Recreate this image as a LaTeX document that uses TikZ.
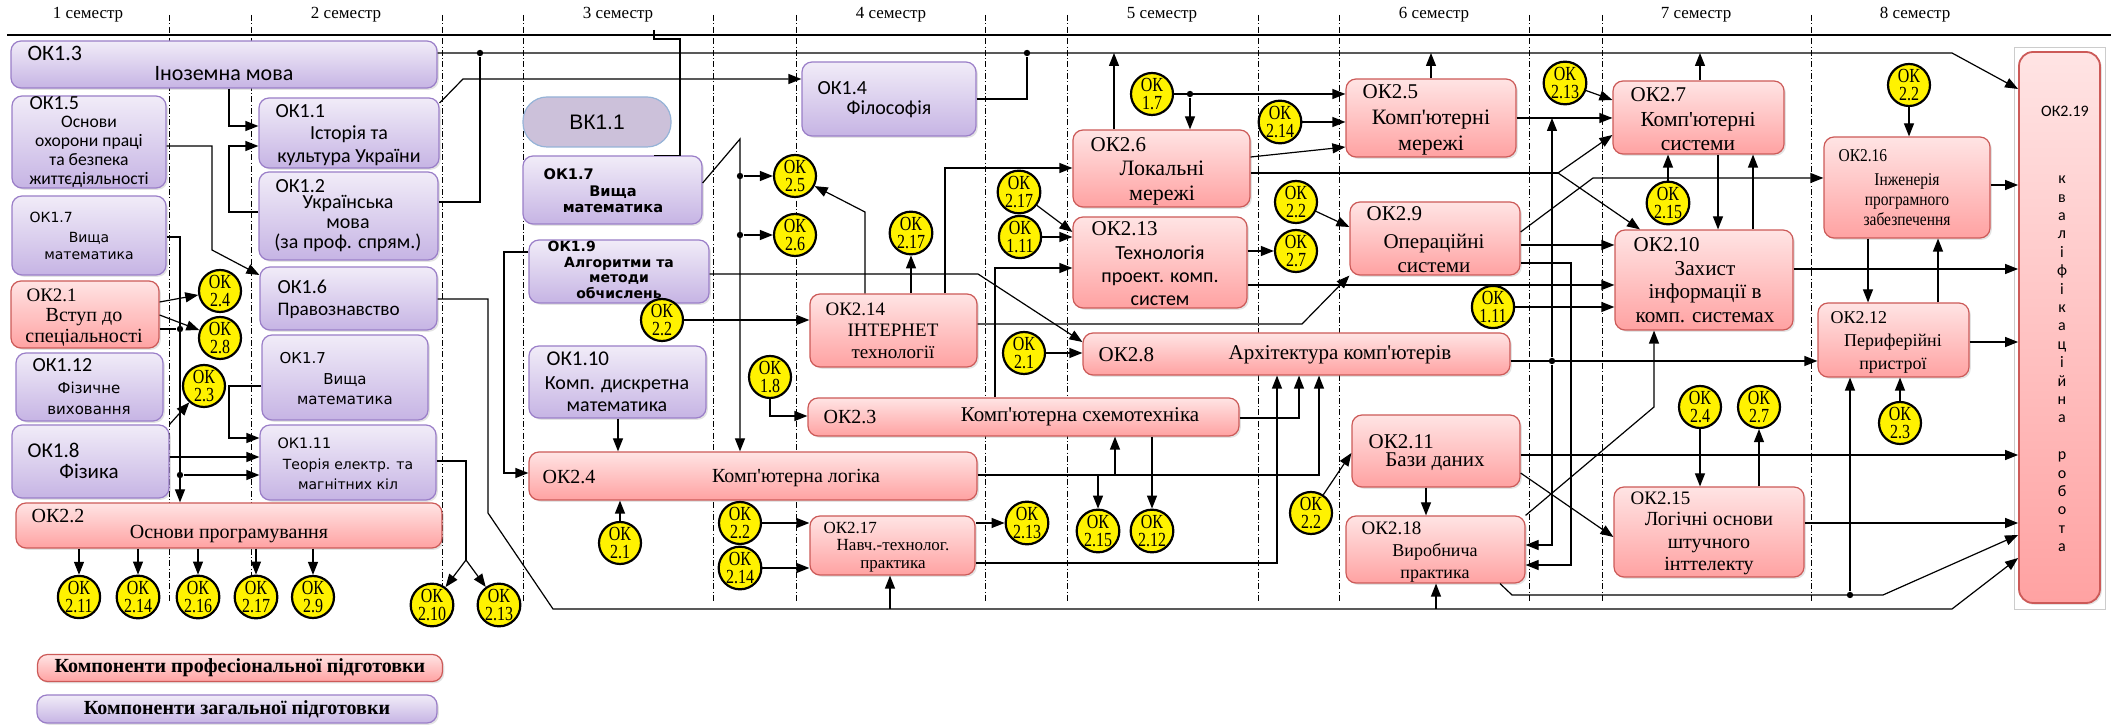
\documentclass[tikz,border=0pt]{standalone}
\usepackage{fontspec}
\setmainfont{Liberation Serif}
\newfontfamily\calfont{Carlito}
\newfontfamily\verfont{DejaVu Sans}
\newfontfamily\arifont{Liberation Sans}
\newfontfamily\circfont[FakeStretch=0.8]{Liberation Serif}
\newfontfamily\condfont[FakeStretch=0.86]{Liberation Serif}
\usetikzlibrary{arrows.meta,fit,shadows}
\newcommand\setfs[2]{\fontsize{#1}{#2}\selectfont}
\newcommand\apo{\textquotesingle}

\definecolor{genTop}{HTML}{F1ECF8}
\definecolor{genBot}{HTML}{C6B4E4}
\definecolor{genLine}{HTML}{9A7EC8}
\definecolor{profTop}{HTML}{FFE4E4}
\definecolor{profBot}{HTML}{FFA2A2}
\definecolor{profLine}{HTML}{CC5A58}
\definecolor{vkFill}{HTML}{CCC1DA}
\definecolor{vkLine}{HTML}{95B3D7}

\tikzset{
  boxshadow/.style={drop shadow={opacity=0.22,shadow xshift=0.9pt,shadow yshift=-0.9pt}},
  genbox/.style={draw=genLine,rounded corners=5pt,top color=genTop,bottom color=genBot,inner sep=0pt,boxshadow},
  profbox/.style={draw=profLine,rounded corners=5pt,top color=profTop,bottom color=profBot,inner sep=0pt,boxshadow},
  okcirc/.style={circle,draw=black,line width=1.1pt,fill=yellow,inner sep=0pt,minimum size=21pt,align=center,font=\circfont\setfs{10}{9.4}},
  jdot/.style={circle,fill=black,inner sep=0pt,minimum size=3.2pt},
  gtitle/.style={anchor=west,inner sep=0pt,font=\calfont\setfs{10}{11}},
  gbody/.style={align=center,inner sep=0pt,font=\calfont\setfs{10}{11}},
  ptitle/.style={anchor=west,inner sep=0pt,font=\setfs{10.5}{12}},
  pbody/.style={align=center,inner sep=0pt,font=\setfs{10.5}{12}},
  semlbl/.style={inner sep=0pt,font=\setfs{8.5}{10}},
  sepline/.style={line width=0.45pt,dash pattern=on 3pt off 1.2pt on 0.4pt off 1.2pt},
}

\begin{document}
\begin{tikzpicture}[x=0.5pt,y=-0.5pt,line width=0.6pt,>={Triangle[length=6.5pt,width=5pt]}]
  \useasboundingbox (0,0) rectangle (2111,726);

  % semesters
  \node[semlbl] (sem1) at (88,15)   {1 семестр};
  \node[semlbl] (sem2) at (346,15)  {2 семестр};
  \node[semlbl] (sem3) at (618,15)  {3 семестр};
  \node[semlbl] (sem4) at (891,15)  {4 семестр};
  \node[semlbl] (sem5) at (1162,15) {5 семестр};
  \node[semlbl] (sem6) at (1434,15) {6 семестр};
  \node[semlbl] (sem7) at (1696,15) {7 семестр};
  \node[semlbl] (sem8) at (1915,15) {8 семестр};
  \draw[line width=0.8pt] (7,35) -- (2111,35);
  \foreach \x in {169,251,442,523,713,796,985,1067,1258,1339,1529,1602,1811}
    \draw[sepline] (\x,15) -- (\x,602);

  % 1-2 semester
  \node[genbox,fit={(11,41) (437,88)}]   (ok13) {};
  \node[gtitle,font=\calfont\setfs{11}{12}] (ok13t) at (27,53) {ОК1.3};
  \node[gbody,font=\calfont\setfs{11}{12}]  (ok13b) at (224,74) {Іноземна мова};
  \node[genbox,fit={(12,96) (166,188)}]  (ok15) {};
  \node[gtitle]                          (ok15t) at (29,103) {ОК1.5};
  \node[gbody,font=\calfont\setfs{8.8}{9.5}] (ok15b) at (89,152) {Основи\\охорони праці\\та безпека\\життєдіяльності};
  \node[genbox,fit={(12,196) (166,275)}] (ok17a) {};
  \node[gtitle,font=\verfont\setfs{7}{8}] (ok17at) at (29,217) {ОК1.7};
  \node[gbody,font=\verfont\setfs{7}{8.5}] (ok17ab) at (89,246) {Вища\\математика};
  \node[profbox,fit={(11,281) (159,348)}] (ok21) {};
  \node[ptitle,font=\setfs{9.5}{11}]     (ok21t) at (26,295) {ОК2.1};
  \node[pbody,font=\setfs{10}{10.5}]     (ok21b) at (84,327) {Вступ до\\спеціальності};
  \node[genbox,fit={(16,353) (163,421)}] (ok112) {};
  \node[gtitle]                          (ok112t) at (32,365) {ОК1.12};
  \node[gbody,font=\verfont\setfs{7.5}{10.5}] (ok112b) at (89,398) {Фізичне\\виховання};
  \node[genbox,fit={(12,425) (169,498)}] (ok18) {};
  \node[gtitle,font=\calfont\setfs{10.5}{12}] (ok18t) at (27,450) {ОК1.8};
  \node[gbody,font=\calfont\setfs{10.5}{12}]  (ok18b) at (89,471) {Фізика};
  \node[profbox,fit={(16,503) (442,548)}] (ok22) {};
  \node[ptitle,font=\setfs{10}{11}]      (ok22t) at (31,516) {ОК2.2};
  \node[pbody,font=\setfs{10}{11}]       (ok22b) at (229,534) {Основи програмування};

  \node[genbox,fit={(259,98) (439,168)}] (ok11) {};
  \node[gtitle]                          (ok11t) at (275,111) {ОК1.1};
  \node[gbody,font=\calfont\setfs{10}{11.5}] (ok11b) at (349,146) {Історія та\\культура України};
  \node[genbox,fit={(259,172) (438,260)}] (ok12) {};
  \node[gtitle]                          (ok12t) at (275,186) {ОК1.2};
  \node[gbody,font=\calfont\setfs{10}{10}] (ok12b) at (348,224) {Українська\\мова\\(за проф. спрям.)};
  \node[genbox,fit={(260,267) (437,330)}] (ok16) {};
  \node[gtitle]                          (ok16t) at (277,287) {ОК1.6};
  \node[gtitle,font=\calfont\setfs{9.6}{11}] (ok16b) at (277,311) {Правознавство};
  \node[genbox,fit={(262,335) (428,420)}] (ok17b) {};
  \node[gtitle,font=\verfont\setfs{7.5}{8}] (ok17bt) at (279,358) {ОК1.7};
  \node[gbody,font=\verfont\setfs{7.5}{10}] (ok17bb) at (345,389) {Вища\\математика};
  \node[genbox,fit={(260,425) (436,500)}] (ok111) {};
  \node[gtitle,font=\verfont\setfs{7.2}{8}] (ok111t) at (277,443) {ОК1.11};
  \node[gbody,font=\verfont\setfs{7}{10}] (ok111b) at (348,474) {Теорія електр. та\\магнітних кіл};

  \node[okcirc] (c24a)  at (220,291) {ОК\\2.4};
  \node[okcirc] (c28)   at (220,338) {ОК\\2.8};
  \node[okcirc] (c23a)  at (204,386) {ОК\\2.3};
  \node[okcirc] (c211)  at (79,597)  {ОК\\2.11};
  \node[okcirc] (c214a) at (138,597) {ОК\\2.14};
  \node[okcirc] (c216)  at (198,597) {ОК\\2.16};
  \node[okcirc] (c217a) at (256,597) {ОК\\2.17};
  \node[okcirc] (c29)   at (313,597) {ОК\\2.9};
  \node[okcirc] (c210)  at (432,605) {ОК\\2.10};
  \node[okcirc] (c213a) at (499,605) {ОК\\2.13};
  \node[jdot] (d1) at (180,329) {};
  \node[jdot] (d2) at (180,475) {};
  \node[jdot] (d3) at (480,53) {};

  % 3-4 semester
  \node[fill=vkFill,draw=vkLine,rounded corners=12pt,minimum width=74pt,minimum height=25pt,font=\arifont\setfs{10.5}{12}] (vk11) at (597,122) {ВК1.1};
  \node[genbox,fit={(523,156) (702,224)}] (ok17c) {};
  \node[gtitle,font=\verfont\bfseries\setfs{7.3}{8}] (ok17ct) at (543,174) {ОК1.7};
  \node[gbody,font=\verfont\bfseries\setfs{7.3}{8}]  (ok17cb) at (613,199) {Вища\\математика};
  \node[genbox,fit={(529,240) (709,303)}] (ok19) {};
  \node[gtitle,font=\verfont\bfseries\setfs{7}{8}] (ok19t) at (547,246) {ОК1.9};
  \node[gbody,font=\verfont\bfseries\setfs{7}{7.8}] (ok19b) at (619,278) {Алгоритми та\\методи\\обчислень};
  \node[genbox,fit={(529,346) (706,418)}] (ok110) {};
  \node[gtitle,font=\calfont\setfs{10.5}{12}] (ok110t) at (546,359) {ОК1.10};
  \node[gbody,font=\calfont\setfs{10}{11}] (ok110b) at (617,394) {Комп. дискретна\\математика};
  \node[profbox,fit={(529,452) (977,500)}] (ok24) {};
  \node[ptitle,font=\setfs{10}{11}]      (ok24t) at (542,477) {ОК2.4};
  \node[pbody,font=\setfs{10}{11}]       (ok24b) at (796,478) {Комп\apo ютерна логіка};
  \node[genbox,fit={(802,62) (976,136)}] (ok14) {};
  \node[gtitle]                          (ok14t) at (817,88) {ОК1.4};
  \node[gbody]                           (ok14b) at (889,109) {Філософія};
  \node[profbox,fit={(810,294) (977,367)}] (ok214) {};
  \node[ptitle,font=\setfs{9.5}{11}]     (ok214t) at (825,309) {ОК2.14};
  \node[pbody,font=\setfs{9.5}{11}]      (ok214b) at (893,341) {ІНТЕРНЕТ\\технології};
  \node[profbox,fit={(808,398) (1239,436)}] (ok23) {};
  \node[ptitle,font=\setfs{10}{11}]      (ok23t) at (823,417) {ОК2.3};
  \node[pbody,font=\setfs{10.5}{11}]     (ok23b) at (1080,417) {Комп\apo ютерна схемотехніка};
  \node[profbox,fit={(810,516) (975,575)}] (ok217) {};
  \node[ptitle,font=\setfs{8.5}{9}]      (ok217t) at (823,528) {ОК2.17};
  \node[pbody,font=\setfs{8.5}{9}]       (ok217b) at (893,556) {Навч.-технолог.\\практика};

  \node[okcirc] (c25)   at (795,176)  {ОК\\2.5};
  \node[okcirc] (c26)   at (795,235)  {ОК\\2.6};
  \node[okcirc] (c22a)  at (662,320)  {ОК\\2.2};
  \node[okcirc] (c217b) at (911,233)  {ОК\\2.17};
  \node[okcirc] (c21a)  at (620,543)  {ОК\\2.1};
  \node[okcirc] (c22b)  at (740,523)  {ОК\\2.2};
  \node[okcirc] (c214b) at (740,568)  {ОК\\2.14};
  \node[okcirc] (c213b) at (1027,523) {ОК\\2.13};
  \node[okcirc] (c18)   at (770,377)  {ОК\\1.8};
  \node[okcirc] (c21b)  at (1024,353) {ОК\\2.1};
  \node[okcirc] (c217c) at (1019,192) {ОК\\2.17};
  \node[okcirc] (c111a) at (1020,237) {ОК\\1.11};
  \node[jdot] (d4) at (1027,53) {};
  \node[jdot] (d5) at (740,176) {};
  \node[jdot] (d6) at (740,235) {};

  % 5-6 semester
  \node[profbox,fit={(1073,130) (1250,207)}] (ok26) {};
  \node[ptitle]                          (ok26t) at (1090,145) {ОК2.6};
  \node[pbody,font=\setfs{11}{12.5}]     (ok26b) at (1162,183) {Локальні\\мережі};
  \node[profbox,fit={(1073,217) (1247,308)}] (ok213) {};
  \node[ptitle]                          (ok213t) at (1091,229) {ОК2.13};
  \node[gbody,font=\calfont\setfs{10}{11.5}] (ok213b) at (1160,276) {Технологія\\проект. комп.\\систем};
  \node[profbox,fit={(1083,333) (1510,375)}] (ok28) {};
  \node[ptitle]                          (ok28t) at (1098,355) {ОК2.8};
  \node[pbody]                           (ok28b) at (1340,355) {Архітектура комп\apo ютерів};
  \node[profbox,fit={(1346,79) (1516,157)}] (ok25) {};
  \node[ptitle]                          (ok25t) at (1362,92) {ОК2.5};
  \node[pbody,font=\setfs{11}{13}]       (ok25b) at (1431,133) {Комп\apo ютерні\\мережі};
  \node[profbox,fit={(1350,202) (1520,275)}] (ok29) {};
  \node[ptitle]                          (ok29t) at (1366,214) {ОК2.9};
  \node[pbody,font=\setfs{10.5}{12}]     (ok29b) at (1434,253) {Операційні\\системи};
  \node[profbox,fit={(1352,415) (1520,487)}] (ok211) {};
  \node[ptitle]                          (ok211t) at (1368,442) {ОК2.11};
  \node[pbody]                           (ok211b) at (1435,462) {Бази даних};
  \node[profbox,fit={(1346,516) (1525,583)}] (ok218) {};
  \node[ptitle,font=\setfs{9.5}{11}]     (ok218t) at (1361,528) {ОК2.18};
  \node[pbody,font=\setfs{9}{11}]        (ok218b) at (1435,563) {Виробнича\\практика};

  \node[okcirc] (c215a) at (1098,531) {ОК\\2.15};
  \node[okcirc] (c212)  at (1152,531) {ОК\\2.12};
  \node[okcirc] (c17)   at (1152,94)  {ОК\\1.7};
  \node[okcirc] (c214c) at (1280,122) {ОК\\2.14};
  \node[okcirc] (c22c)  at (1296,202) {ОК\\2.2};
  \node[okcirc] (c27a)  at (1296,251) {ОК\\2.7};
  \node[okcirc] (c111b) at (1493,307) {ОК\\1.11};
  \node[okcirc] (c22d)  at (1311,513) {ОК\\2.2};
  \node[jdot] (d7) at (1190,94) {};
  \node[jdot] (d8) at (1552,361) {};

  % 7-8 semester
  \node[profbox,fit={(1613,81) (1784,154)}] (ok27) {};
  \node[ptitle]                          (ok27t) at (1630,95) {ОК2.7};
  \node[pbody,font=\setfs{10.7}{12}]     (ok27b) at (1698,132) {Комп\apo ютерні\\системи};
  \node[profbox,fit={(1615,230) (1793,330)}] (ok210) {};
  \node[ptitle]                          (ok210t) at (1633,245) {ОК2.10};
  \node[pbody,font=\setfs{10.6}{11.75}]  (ok210b) at (1705,292) {Захист\\інформації в\\комп. системах};
  \node[profbox,fit={(1614,487) (1804,577)}] (ok215) {};
  \node[ptitle,font=\setfs{9.5}{11}]     (ok215t) at (1630,498) {ОК2.15};
  \node[pbody,font=\setfs{10}{11.25}]    (ok215b) at (1709,544) {Логічні основи\\штучного\\інттелекту};
  \node[profbox,fit={(1824,137) (1990,238)}] (ok216) {};
  \node[ptitle,font=\condfont\setfs{9}{10}] (ok216t) at (1838,156) {ОК2.16};
  \node[pbody,font=\condfont\setfs{9}{10}]  (ok216b) at (1907,200) {Інженерія\\програмного\\забезпечення};
  \node[profbox,fit={(1818,303) (1969,377)}] (ok212) {};
  \node[ptitle,font=\setfs{9}{11}]       (ok212t) at (1830,318) {ОК2.12};
  \node[pbody,font=\setfs{9}{11.5}]      (ok212b) at (1893,354) {Периферійні\\пристрої};
  \draw[gray!40,line width=0.5pt] (2014,48) rectangle (2105,610);
  \node[profbox,rounded corners=7pt,line width=0.9pt,fit={(2019,52) (2100,603)}] (ok219) {};
  \node[inner sep=0pt,font=\calfont\setfs{8}{9}] (ok219t) at (2065,111) {ОК2.19};
  \node[inner sep=0pt,align=center,font=\calfont\setfs{8}{9.2}] (ok219b) at (2062,364)
    {к\\в\\а\\л\\і\\ф\\і\\к\\а\\ц\\і\\й\\н\\а\\\mbox{}\\р\\о\\б\\о\\т\\а};

  \node[okcirc] (c213c) at (1565,83)  {ОК\\2.13};
  \node[okcirc] (c215b) at (1668,203) {ОК\\2.15};
  \node[okcirc] (c24b)  at (1700,407) {ОК\\2.4};
  \node[okcirc] (c27b)  at (1759,407) {ОК\\2.7};
  \node[okcirc] (c22e)  at (1909,85)  {ОК\\2.2};
  \node[okcirc] (c23b)  at (1900,423) {ОК\\2.3};
  \node[jdot] (d9) at (1850,595) {};

  % legend
  \node[profbox,minimum width=202.5pt,minimum height=13.5pt,font=\bfseries\setfs{10}{12}] (legp) at (240,668) {Компоненти професіональної підготовки};
  \node[genbox,minimum width=200pt,minimum height=14pt,font=\bfseries\setfs{10}{12}]  (legg) at (237,709) {Компоненти загальної підготовки};

  % links 1-2
  \draw[->] (229,0 |- ok13.south) |- (ok11.west |- 0,126);
  \draw[->] (ok12.west |- 0,212) -| (229,146) -- (ok11.west |- 0,146);
  \draw[->] (ok15.east |- 0,146) -| (212,250) -- (ok16.west |- 0,275);
  \draw[->] (ok17a.east |- 0,237) -| (ok22.north -| d1);
  \draw (ok21.east |- d1) -- (d1);
  \draw[->] (d2) -- (ok111.west |- d2);
  \draw[->] (ok21.east |- 0,302) -- (c24a);
  \draw[->] (ok21.east |- 0,315) -- (c28);
  \draw[->] (ok18.north east) -- (c23a);
  \draw[->] (ok18.east |- 0,457) -- (ok111.west |- 0,457);
  \draw[->] (ok17b.west |- 0,386) -| (229,438) -- (ok111.west |- 0,438);
  \foreach \cn in {c211,c214a,c216,c217a,c29}
    \draw[->] (ok22.south -| \cn) -- (\cn);
  \coordinate (sp1) at (466,560);
  \draw (ok111.east |- 0,461) -| (sp1);
  \draw[->] (sp1) -- (c210);
  \draw[->] (sp1) -- (c213a);

  % top bus
  \draw[->] (ok13.east |- d3) -- (1952,0 |- d3) -- (ok219.west |- 0,89);
  \draw (ok12.east |- 0,202) -| (d3);
  \draw (ok14.east) -| (d4);
  \draw[->] (ok26.north -| 1114,0) -- (1114,0 |- d4);
  \draw[->] (ok25.north) -- (ok25.north |- d4);
  \draw[->] (ok27.north -| 1700,0) -- (1700,0 |- d4);
  \draw[->] (ok11.east |- 0,103) -- (463,79) -- (ok14.west |- 0,79);
  \draw (654,30) |- (680,39) |- (ok17c.north -| 654,0);

  % links 3-4
  \draw[->] (ok17c.east |- 0,183) -- (740,139) -- (ok24.north -| d5);
  \draw[->] (d5) -- (c25);
  \draw[->] (d6) -- (c26);
  \draw[->] (ok19.west |- 0,252) -| (504,473) -- (ok24.west |- 0,473);
  \draw[->] (ok19.east |- 0,274) -- (978,274) -- (ok28.west |- 0,342);
  \coordinate (b1) at (890,609);
  \coordinate (b2) at (1436,609);
  \draw[->] (ok16.east |- 0,299) -| (488,513) -- (553,609) -- (1952,609) -- (ok219.west |- 0,558);
  \draw[->] (b1) -- (ok217.south -| b1);
  \draw[->] (b2) -- (ok218.south -| b2);
  \draw[->] (ok110.south -| 618,0) -- (ok24.north -| 618,0);
  \draw[->] (c21a) -- (ok24.south -| c21a);
  \draw[->] (c22a) -- (ok214.west |- c22a);
  \draw[->] (ok214.north -| 865,0) -- (865,212) -- (c25);
  \draw[->] (ok214.north -| c217b) -- (c217b);
  \draw[->] (ok214.north -| 945,0) |- (ok26.west |- 0,168);
  \draw[->] (ok214.east |- 0,324) -- (1302,324) -- (ok29.south west);
  \draw[->] (c18) |- (ok23.west |- 0,416);
  \draw[->] (c21b) -- (ok28.west |- c21b);
  \draw[->] (c22b) -- (ok217.west |- c22b);
  \draw[->] (c214b) -- (ok217.west |- c214b);
  \draw[->] (ok217.east |- c213b) -- (c213b);
  \draw[->] (ok217.east |- 0,563) -| (ok28.south -| 1277,0);
  \draw[->] (ok23.east |- 0,418) -| (ok28.south -| 1299,0);
  \coordinate (b3) at (1115,475);
  \coordinate (b4) at (1098,475);
  \draw[->] (ok24.east |- b3) -| (ok28.south -| 1319,0);
  \draw[->] (b3) -- (ok23.south -| b3);
  \draw[->] (b4) -- (c215a);
  \draw[->] (ok23.south -| c212) -- (c212);
  \draw[->] (ok23.north -| 995,0) |- (ok213.west |- 0,268);
  \draw[->] (c217c) -- (ok213.west |- 0,232);
  \draw[->] (c111a) -- (ok213.west |- c111a);

  % links 5-6
  \draw[->] (c17) -- (ok25.west |- c17);
  \draw[->] (d7) -- (ok26.north -| d7);
  \draw[->] (c214c) -- (ok25.west |- c214c);
  \draw[->] (ok26.east |- 0,157) -- (ok25.west |- 0,147);
  \coordinate (sp2) at (1558,173);
  \draw (ok26.east |- sp2) -- (sp2);
  \draw[->] (sp2) -- (ok27.west |- 0,135);
  \draw[->] (sp2) -- (ok210.north -| 1640,0);
  \draw[->] (ok25.east) -- (ok27.west |- ok25.east);
  \draw[->] (ok213.east |- c27a) -- (c27a);
  \draw[->] (c22c) -- (ok29.west |- 0,227);
  \draw[->] (ok213.east |- 0,285) -- (ok210.west |- 0,285);
  \draw[->] (ok29.east |- 0,245) -- (ok210.west |- 0,245);
  \draw[->] (ok29.east |- 0,263) -| (1571,565) -- (ok218.east |- 0,565);
  \draw[->] (ok29.east |- 0,232) -- (1593,178) -- (ok216.west |- 0,178);
  \draw[->] (c111b) -- (ok210.west |- c111b);
  \draw[->] (ok28.east |- d8) -- (ok212.west |- d8);
  \draw[->] (d8) -- (d8 |- ok25.east);
  \draw[->] (d8) |- (ok218.east |- 0,545);

  % links 7-8
  \draw[->] (c213c) -- (ok27.west |- 0,100);
  \draw[->] (c215b) -- (ok27.south -| c215b);
  \draw[->] (ok27.south -| 1718,0) -- (ok210.north -| 1718,0);
  \draw[->] (ok210.north -| 1753,0) -- (ok27.south -| 1753,0);
  \draw[->] (ok210.east |- 0,269) -- (ok219.west |- 0,269);
  \draw[->] (ok218.north east) -- (1654,407) -- (ok210.south -| 1654,0);
  \draw[->] (c22d) -- (ok211.west |- 0,453);
  \draw[->] (ok211.south -| 1426,0) -- (ok218.north -| 1426,0);
  \draw[->] (ok211.east |- 0,455) -- (ok219.west |- 0,455);
  \draw[->] (ok211.east |- 0,473) -- (ok215.west |- 0,537);
  \draw[->] (c24b) -- (ok215.north -| c24b);
  \draw[->] (ok215.north -| c27b) -- (c27b);
  \draw[->] (ok215.east |- 0,523) -- (ok219.west |- 0,523);
  \draw[->] (ok218.south -| 1500,0) -- (1512,595) -- (1883,595) -- (ok219.west |- 0,535);
  \draw[->] (d9) -- (ok212.south -| d9);
  \draw[->] (c23b) -- (ok212.south -| c23b);
  \draw[->] (ok212.east |- 0,342) -- (ok219.west |- 0,342);
  \draw[->] (c22e) -- (ok216.north -| c22e);
  \draw[->] (ok216.east |- 0,185) -- (ok219.west |- 0,185);
  \draw[->] (ok216.south -| 1868,0) -- (ok212.north -| 1868,0);
  \draw[->] (ok212.north -| 1938,0) -- (ok216.south -| 1938,0);
\end{tikzpicture}
\end{document}
